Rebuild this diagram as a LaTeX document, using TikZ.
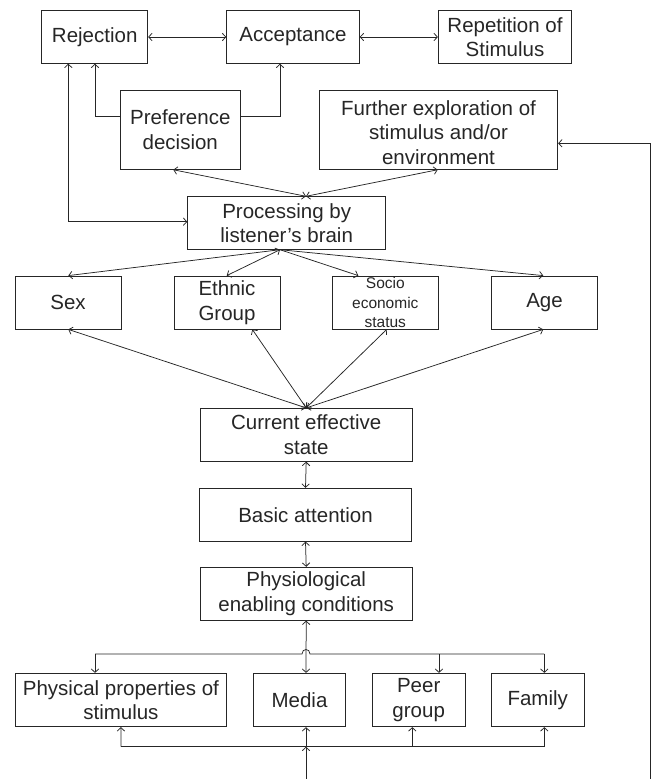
\documentclass[tikz,border=0pt]{standalone}
\usepackage{fontspec}
\setmainfont{Liberation Sans}
\usetikzlibrary{arrows.meta}
\definecolor{ink}{RGB}{38,38,38}
\begin{document}
\begin{tikzpicture}[x=1pt,y=-1pt,
  >={Straight Barb[length=3.5pt,width=7.5pt]},
  box/.style={draw=ink, line width=0.8pt, inner sep=0pt, align=center,
    text=ink, font=\fontsize{20.5}{24.5}\selectfont},
  wire/.style={draw=ink, line width=0.75pt}]
\useasboundingbox (0,0) rectangle (651,779);

% top row: outcomes
\node[box, minimum width=106pt,   minimum height=52.6pt] (rej) at (94.7,37)  {Rejection};
\node[box, minimum width=132.6pt, minimum height=52.6pt] (acc) at (293,37)   {Acceptance};
\node[box, minimum width=133.4pt, minimum height=52.6pt] (rep) at (505,37)   {Repetition of\\Stimulus};

% decision and exploration
\node[box, minimum width=119.3pt, minimum height=79.3pt] (pref) at (180.3,129.7) {Preference\\decision};
\node[box, minimum width=238.4pt, minimum height=79.3pt] (fur)  at (438.5,129.7)
  {\raisebox{-5pt}[\height][\depth]{\begin{tabular}{@{}c@{}}Further exploration of\\stimulus and/or\\environment\end{tabular}}};

% processing
\node[box, minimum width=198pt, minimum height=52.6pt] (proc) at (286.7,223) {Processing by\\listener’s brain};

% listener characteristics
\node[box, minimum width=106pt, minimum height=53pt] (sex) at (68,302.5)    {Sex};
\node[box, minimum width=106pt, minimum height=53pt] (eth) at (227,302.5)   {Ethnic\\Group};
\node[box, minimum width=106pt, minimum height=53pt,
      font=\fontsize{15.5}{19.3}\selectfont]        (soc) at (385.3,302.5) {Socio\\economic\\status};
\node[box, minimum width=106pt, minimum height=53pt] (age) at (544.5,302.5) {Age};

% central chain
\node[box, minimum width=212.3pt, minimum height=53pt] (cur) at (306.2,434.8) {Current effective\\state};
\node[box, minimum width=212.3pt, minimum height=53pt] (bas) at (305.5,514.7) {Basic attention};
\node[box, minimum width=212.3pt, minimum height=53pt] (phy) at (306.2,593.7) {Physiological\\enabling conditions};

% influences
\node[box, minimum width=211.7pt, minimum height=53.4pt] (pps)  at (120.9,700) {Physical properties of\\stimulus};
\node[box, minimum width=92.4pt,  minimum height=53.4pt] (med)  at (299.5,700) {Media};
\node[box, minimum width=92.7pt,  minimum height=53.4pt] (peer) at (418.7,700) {Peer\\group};
\node[box, minimum width=93.3pt,  minimum height=53.4pt] (fam)  at (537.7,700) {Family};

% junction points of the two buses and the open ends
\coordinate (tbL) at (95,654);
\coordinate (tbP) at (439,654);
\coordinate (tbR) at (544.3,654);
\coordinate (bbL) at (121,746.7);
\coordinate (bbP) at (412.3,746.7);
\coordinate (bbM) at (306,746.7);
\coordinate (bbR) at (544.3,746.7);
\coordinate (src) at (306,779);
\coordinate (fb)  at (650,779);

% top row links
\draw[wire,<->] (rej.east) -- (acc.west);
\draw[wire,<->] (acc.east) -- (rep.west);
\draw[wire,->] ([yshift=13pt]pref.west) -| ([xshift=0.3pt]rej.south);
\draw[wire,->] ([yshift=13pt]pref.east) -| ([xshift=-13pt]acc.south);
\draw[wire,<->] ([xshift=-26.4pt]rej.south) |- ([yshift=1.3pt]proc.west);

% processing to decision / exploration
\draw[wire,<->] ([xshift=-7pt]pref.south) -- ([xshift=19.3pt]proc.north);
\draw[wire,<->] ([xshift=-0.8pt]fur.south) -- ([xshift=19.3pt]proc.north);
\draw[wire,->] (fb) |- ([yshift=-13.6pt]fur.east);

% processing to characteristics
\draw[wire,->]  ([xshift=-6.7pt]proc.south) -- ([xshift=0.3pt]sex.north);
\draw[wire,<->] ([xshift=-6.7pt]proc.south) -- ([xshift=-0.3pt]eth.north);
\draw[wire,->]  ([xshift=-6.7pt]proc.south) -- ([xshift=-27pt]soc.north);
\draw[wire,->]  ([xshift=-6.7pt]proc.south) -- ([xshift=-1.2pt]age.north);

% characteristics to current state
\draw[wire,<->] (cur.north) -- ([xshift=0.3pt]sex.south);
\draw[wire,<->] (cur.north) -- ([xshift=25.3pt]eth.south);
\draw[wire,<->] (cur.north) -- ([xshift=1.4pt]soc.south);
\draw[wire,<->] (cur.north) -- ([xshift=-1.2pt]age.south);

% central chain
\draw[wire,<->] (cur.south) -- (bas.north);
\draw[wire,<->] (bas.south) -- (phy.north);
\draw[wire,<->] (phy.south) -- ([xshift=6.5pt]med.north);

% upper bus with a hop over the vertical link
\draw[wire] (tbL) -- (302,654) .. controls (302,648) and (310,648) .. (310,654) -- (tbR);
\draw[wire,->] (tbL) -- ([xshift=-25.9pt]pps.north);
\draw[wire,->] (tbP) -- ([xshift=20.3pt]peer.north);
\draw[wire,->] (tbR) -- ([xshift=6.6pt]fam.north);

% lower bus
\draw[wire] (bbL) -- (bbR);
\draw[wire,->] (bbL) -- (pps.south);
\draw[wire,->] (bbP) -- ([xshift=-6.4pt]peer.south);
\draw[wire,->] (bbR) -- ([xshift=6.6pt]fam.south);
\draw[wire,->] (src) -- (bbM);
\draw[wire,->] (bbM) -- ([xshift=6.5pt]med.south);
\end{tikzpicture}
\end{document}
